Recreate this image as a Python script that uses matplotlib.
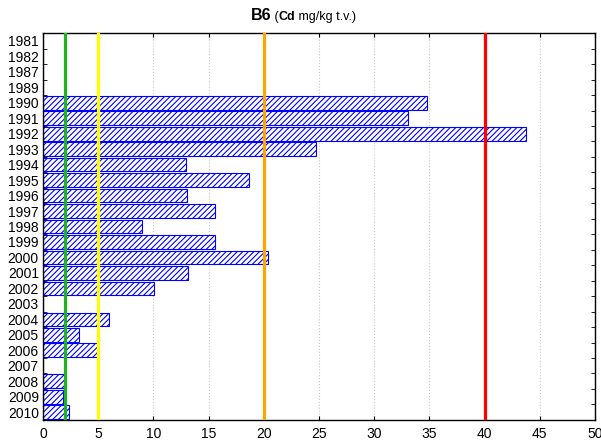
import matplotlib.pyplot as plt
from matplotlib.offsetbox import TextArea, HPacker, AnchoredOffsetbox
import numpy as np

plt.rcParams['font.family'] = ['Liberation Sans', 'DejaVu Sans']
plt.rcParams['hatch.color'] = '#0000ff'
plt.rcParams['hatch.linewidth'] = 0.8

years = ['1981', '1982', '1987', '1989', '1990', '1991', '1992', '1993', '1994',
         '1995', '1996', '1997', '1998', '1999', '2000', '2001', '2002', '2003',
         '2004', '2005', '2006', '2007', '2008', '2009', '2010']
cd_values = [0, 0, 0, 0, 34.8, 33.1, 43.75, 24.7, 12.95,
             18.7, 13.05, 15.6, 8.95, 15.6, 20.4, 13.1, 10.05, 0,
             6.0, 3.25, 5.0, 0, 2.05, 1.85, 2.35]

# limit values (vertical lines)
limits = [2, 5, 20, 40]
limit_colors = ['#1fb41f', '#ffff00', '#ffa500', '#ff0000']

fig = plt.figure(figsize=(6.01, 4.42), dpi=100)
ax = fig.add_axes([0.0716, 0.05, 0.9185, 0.875])

pos = np.arange(len(years))
ax.barh(pos, cd_values, height=0.88, color='white', edgecolor='#0000ff',
        hatch='//////', linewidth=0.8, zorder=2)

for v, c in zip(limits, limit_colors):
    ax.axvline(v, color=c, linewidth=2.3, zorder=3)

ax.set_xlim(0, 50)
ax.set_ylim(len(years) - 0.5, -0.5)
ax.set_xticks(range(0, 51, 5))
ax.set_yticks(pos)
ax.set_yticklabels(years)
ax.set_yticks(np.arange(len(years) + 1) - 0.5, minor=True)
ax.tick_params(axis='y', which='major', length=0, labelsize=10, pad=3)
ax.tick_params(axis='y', which='minor', direction='in', length=3, left=True, right=True)
ax.tick_params(axis='x', which='major', direction='in', length=3, top=True, labelsize=10, pad=5)
ax.grid(axis='x', linestyle=':', color='#c8c8c8', linewidth=0.8, zorder=0)
for s in ax.spines.values():
    s.set_linewidth(1.0)

# title: "B6 (Cd mg/kg t.v.)"
parts = [TextArea('B6', textprops=dict(fontsize=11.5, fontweight='bold')),
         TextArea(' (', textprops=dict(fontsize=9)),
         TextArea('Cd', textprops=dict(fontsize=9, fontweight='bold')),
         TextArea(' mg/kg t.v.)', textprops=dict(fontsize=9))]
box = HPacker(children=parts, align='baseline', pad=0, sep=0)
anchored = AnchoredOffsetbox(loc='center', child=box, frameon=False,
                             bbox_to_anchor=(0.505, 0.964), bbox_transform=fig.transFigure,
                             borderpad=0)
fig.add_artist(anchored)

fig.savefig('out.png', dpi=100)
